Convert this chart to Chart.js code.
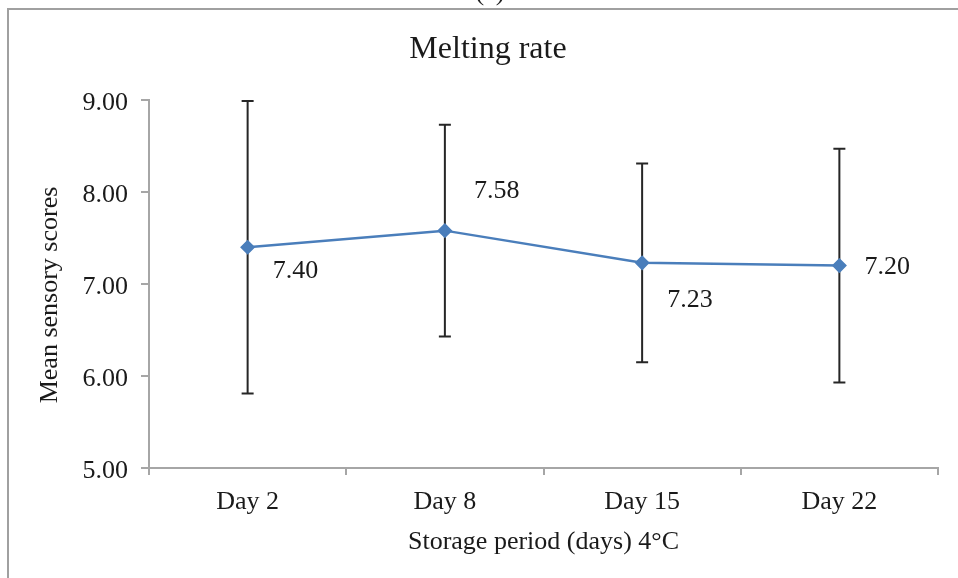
<!DOCTYPE html>
<html>
<head>
<meta charset="utf-8">
<script src="https://cdn.jsdelivr.net/npm/chart.js@4.4.1/dist/chart.umd.min.js"></script>
<style>
    html, body { margin: 0; padding: 0; background: #fff; }
    #wrap { width: 958px; height: 578px; }
</style>
</head>
<body>
<div id="wrap"><canvas id="meltChart" width="958" height="578"></canvas></div>
<script>
const days = ["Day 2", "Day 8", "Day 15", "Day 22"];
const meanScores = [7.40, 7.58, 7.23, 7.20];
const stdDev = [1.59, 1.15, 1.08, 1.27];
const yTicks = [5, 6, 7, 8, 9];

const SERIF = "'Liberation Serif', 'Times New Roman', serif";
const AXIS_GRAY = "#a6a6a6";
const TEXT = "#1a1a1a";

// outer frame, panel letter cut off at the top edge, chart title and y title
const framePlugin = {
    id: "frame",
    beforeDraw(chart) {
        const ctx = chart.ctx;
        ctx.save();
        ctx.fillStyle = "#fff";
        ctx.fillRect(0, 0, chart.width, chart.height);
        ctx.strokeStyle = "#a0a0a0";
        ctx.lineWidth = 2;
        ctx.strokeRect(8, 9, 1200, 1200);
        ctx.fillStyle = "#222";
        ctx.font = "26px " + SERIF;
        ctx.textAlign = "center";
        ctx.textBaseline = "alphabetic";
        ctx.fillText("(c)", 490, 0);

        ctx.fillStyle = TEXT;
        ctx.font = "32px " + SERIF;
        ctx.textBaseline = "middle";
        ctx.fillText("Melting rate", 488, 50);

        ctx.font = "26px " + SERIF;
        ctx.translate(50, 295);
        ctx.rotate(-Math.PI / 2);
        ctx.fillText("Mean sensory scores", 0, 0);
        ctx.restore();
    }
};

// vertical error bars (mean ± SD) with short caps
const errorBars = {
    id: "errorBars",
    beforeDatasetsDraw(chart) {
        const { ctx, scales } = chart;
        ctx.save();
        ctx.strokeStyle = "#262626";
        ctx.lineWidth = 2;
        meanScores.forEach((m, i) => {
            const x = scales.x.getPixelForValue(i);
            const yTop = scales.y.getPixelForValue(m + stdDev[i]);
            const yBot = scales.y.getPixelForValue(m - stdDev[i]);
            ctx.beginPath();
            ctx.moveTo(x, yTop);
            ctx.lineTo(x, yBot);
            ctx.moveTo(x - 6, yTop);
            ctx.lineTo(x + 6, yTop);
            ctx.moveTo(x - 6, yBot);
            ctx.lineTo(x + 6, yBot);
            ctx.stroke();
        });
        ctx.restore();
    }
};

// value labels next to each point
const labelOffsets = [[25, 24], [29, -39], [25, 37], [25, 2]];
const valueLabels = {
    id: "valueLabels",
    afterDatasetsDraw(chart) {
        const { ctx } = chart;
        const pts = chart.getDatasetMeta(0).data;
        ctx.save();
        ctx.fillStyle = TEXT;
        ctx.font = "26px " + SERIF;
        ctx.textAlign = "left";
        ctx.textBaseline = "middle";
        pts.forEach((p, i) => {
            ctx.fillText(meanScores[i].toFixed(2), p.x + labelOffsets[i][0], p.y + labelOffsets[i][1]);
        });
        ctx.restore();
    }
};

new Chart(document.getElementById("meltChart"), {
    type: "line",
    data: {
        labels: days,
        datasets: [{
            data: meanScores,
            borderColor: "#4a7ebb",
            backgroundColor: "#4a7ebb",
            borderWidth: 2.5,
            pointStyle: "rectRot",
            pointRadius: 6.5,
            pointBorderWidth: 1.5,
            tension: 0
        }]
    },
    options: {
        responsive: false,
        animation: false,
        layout: { padding: { top: 100, right: 20, left: 0, bottom: 0 } },
        plugins: {
            legend: { display: false },
            tooltip: { enabled: false },
            title: { display: false }
        },
        scales: {
            x: {
                offset: true,
                grid: { offset: true, drawOnChartArea: false, color: AXIS_GRAY, lineWidth: 2, tickLength: 7 },
                border: { color: AXIS_GRAY, width: 2 },
                ticks: { color: TEXT, font: { family: SERIF, size: 26 }, padding: 12 },
                title: {
                    display: true,
                    text: "Storage period (days) 4°C",
                    color: TEXT,
                    font: { family: SERIF, size: 26 },
                    padding: { top: 4, bottom: 20 }
                },
                afterFit(scale) { scale.height = 110; }
            },
            y: {
                min: yTicks[0],
                max: yTicks[yTicks.length - 1],
                afterBuildTicks(scale) { scale.ticks = yTicks.map(v => ({ value: v })); },
                grid: { drawOnChartArea: false, color: AXIS_GRAY, lineWidth: 2, tickLength: 8 },
                border: { color: AXIS_GRAY, width: 2 },
                ticks: {
                    color: TEXT,
                    font: { family: SERIF, size: 26 },
                    padding: 13,
                    labelOffset: 3,
                    callback: v => Number(v).toFixed(2)
                },
                afterFit(scale) { scale.width = 149; }
            }
        }
    },
    plugins: [framePlugin, errorBars, valueLabels]
});
</script>
</body>
</html>
